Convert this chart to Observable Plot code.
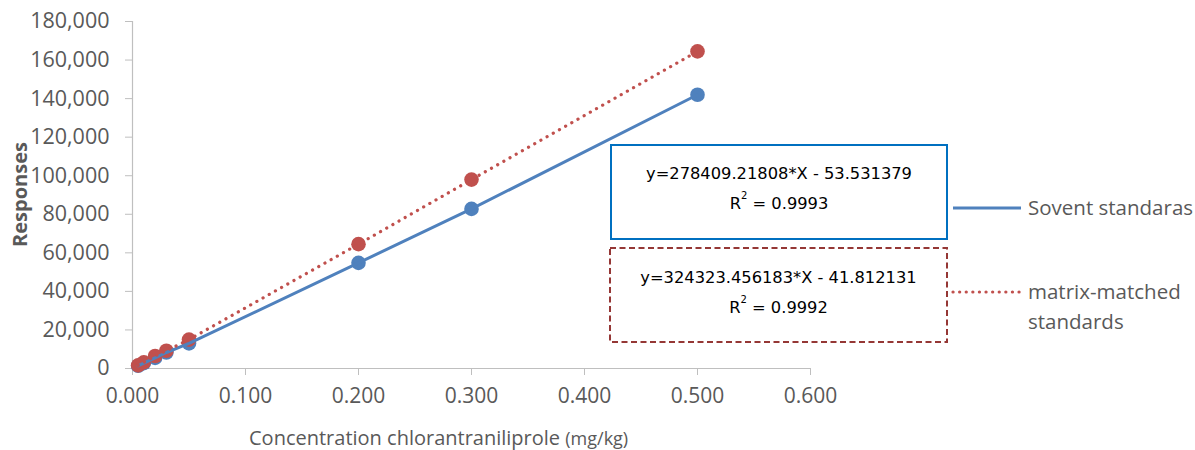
<!DOCTYPE html>
<html>
<head>
<meta charset="utf-8">
<script src="https://cdn.jsdelivr.net/npm/d3@7"></script>
<script src="https://cdn.jsdelivr.net/npm/@observablehq/plot@0.6"></script>
<style>
  body { margin: 0; background: #fff; }
  #chart { position: relative; width: 1195px; height: 450px; }
</style>
</head>
<body>
<div id="chart"></div>
<script>
// ---- data ----
const concentrations = [0.005, 0.01, 0.02, 0.03, 0.05, 0.2, 0.3, 0.5];
const solventResponses = [1400, 2800, 5500, 8300, 13000, 54800, 82800, 142000];
const matrixResponses = [1600, 3200, 6500, 9200, 15000, 64500, 98000, 164500];
const yTicks = [0, 20000, 40000, 60000, 80000, 100000, 120000, 140000, 160000, 180000];
const xTicks = [0, 0.1, 0.2, 0.3, 0.4, 0.5, 0.6];
const seriesNames = ["Sovent standaras", "matrix-matched standards"];
const equations = ["y=278409.21808*X - 53.531379", "y=324323.456183*X - 41.812131"];
const r2Values = ["0.9993", "0.9992"];
const xTitle = "Concentration chlorantraniliprole ";
const xUnit = "(mg/kg)";
const yTitle = "Responses";

const solvent = concentrations.map((x, i) => ({x, y: solventResponses[i]}));
const matrix = concentrations.map((x, i) => ({x, y: matrixResponses[i]}));

const blue = "#4f81bd", red = "#c0504d", gray = "#595959", axisGray = "#bfbfbf";

const chart = Plot.plot({
  width: 1195,
  height: 450,
  marginLeft: 132,
  marginRight: 385,
  marginTop: 21,
  marginBottom: 82,
  x: {domain: [0, 0.6]},
  y: {domain: [0, 180000]},
  style: {fontFamily: "Open Sans", fontSize: "20px", color: gray, background: "white", overflow: "visible"},
  marks: [
    Plot.axisY({ticks: yTicks, tickFormat: d3.format(","), tickSize: 7, tickPadding: 16, stroke: axisGray, fill: gray, fontSize: 21.5, label: null}),
    Plot.axisX({ticks: xTicks, tickFormat: d3.format(".3f"), tickSize: 7, tickPadding: 13, stroke: axisGray, fill: gray, fontSize: 21, label: null}),
    Plot.ruleX([0], {stroke: axisGray, strokeWidth: 1.2}),
    Plot.ruleY([0], {stroke: axisGray, strokeWidth: 1.2}),
    Plot.dot(solvent, {x: "x", y: "y", r: 7.3, fill: blue, stroke: null}),
    Plot.dot(matrix, {x: "x", y: "y", r: 7.3, fill: red, stroke: null}),
    Plot.line(solvent, {x: "x", y: "y", stroke: blue, strokeWidth: 3}),
    Plot.line(matrix, {x: "x", y: "y", stroke: red, strokeWidth: 3.2, strokeDasharray: "0.1 7", strokeLinecap: "round"})
  ]
});
document.getElementById("chart").appendChild(chart);

const svg = d3.select(chart);

// axis titles
const xt = svg.append("text").attr("x", 249).attr("y", 445).attr("text-anchor", "start")
  .attr("fill", gray).style("font-family", "Open Sans").style("font-size", "20px");
xt.append("tspan").text(xTitle);
xt.append("tspan").text(xUnit).style("font-size", "18px");

svg.append("text").attr("transform", "translate(27,194.5) rotate(-90)")
  .attr("text-anchor", "middle").attr("fill", gray)
  .style("font-family", "Open Sans").style("font-size", "20px").style("font-weight", "bold")
  .text(yTitle);

// equation boxes
const boxes = [
  {x: 611, y: 145, w: 336, h: 94, stroke: "#0070c0", dash: null, eqY: 179, rY: 209},
  {x: 610, y: 248, w: 337, h: 94, stroke: "#953735", dash: "6 3.5", eqY: 283, rY: 313}
];
boxes.forEach((b, i) => {
  svg.append("rect").attr("x", b.x).attr("y", b.y).attr("width", b.w).attr("height", b.h)
    .attr("fill", "white").attr("stroke", b.stroke).attr("stroke-width", 2)
    .attr("stroke-dasharray", b.dash);
  const cx = b.x + b.w / 2;
  svg.append("text").attr("x", cx).attr("y", b.eqY).attr("text-anchor", "middle")
    .attr("fill", "#000").style("font-family", "DejaVu Sans").style("font-size", "16.3px")
    .text(equations[i]);
  const t = svg.append("text").attr("x", cx).attr("y", b.rY).attr("text-anchor", "middle")
    .attr("fill", "#000").style("font-family", "DejaVu Sans").style("font-size", "16.3px");
  t.append("tspan").text("R");
  t.append("tspan").attr("dy", -10).style("font-size", "10px").text("2");
  t.append("tspan").attr("dy", 10).text(" = " + r2Values[i]);
});

// legend
const legendItems = [
  {y: 208, stroke: blue, dash: null, lines: [seriesNames[0]]},
  {y: 292, stroke: red, dash: "0.1 6.5", lines: ["matrix-matched", "standards"]}
];
legendItems.forEach(l => {
  svg.append("line").attr("x1", 953).attr("x2", 1021).attr("y1", l.y).attr("y2", l.y)
    .attr("stroke", l.stroke).attr("stroke-width", 3.2)
    .attr("stroke-dasharray", l.dash).attr("stroke-linecap", l.dash ? "round" : "butt");
  l.lines.forEach((s, j) => {
    svg.append("text").attr("x", 1028).attr("y", l.y + 7 + j * 30).attr("text-anchor", "start")
      .attr("fill", gray).style("font-family", "Open Sans").style("font-size", "20.5px").text(s);
  });
});
</script>
</body>
</html>
